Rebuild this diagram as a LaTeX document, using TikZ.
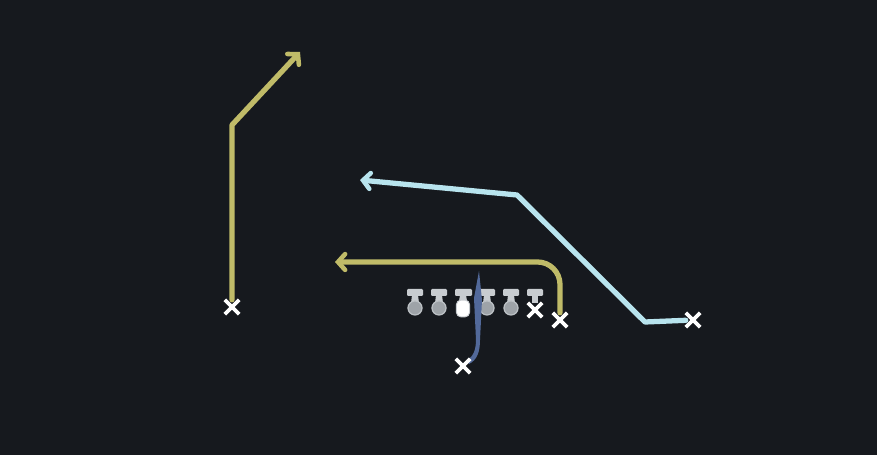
\documentclass[tikz,border=0pt]{standalone}
\usepackage{tikz}
\usetikzlibrary{arrows.meta,shapes.misc}
\usepackage{xcolor}

\definecolor{field}{HTML}{16191E}
\definecolor{routeyellow}{HTML}{C0BB68}
\definecolor{routecyan}{HTML}{B8E4EE}
\definecolor{routeblue}{HTML}{52699A}
\definecolor{linegray}{HTML}{9EA3A8}
\definecolor{bargray}{HTML}{C8CCD0}

\tikzset{
  player/.style={cross out, draw=white, line width=2.2pt, minimum size=6pt, inner sep=0pt},
  lineman/.style={circle, fill=linegray, draw=bargray!70!linegray, line width=0.7pt, minimum size=8pt, inner sep=0pt},
  route/.style={line width=3pt, line cap=round, line join=round,
    -{Straight Barb[length=4pt,width=9pt,line width=2.6pt,line cap=round]}}
}

\begin{document}
\begin{tikzpicture}[x=0.02cm, y=-0.02cm]
    \fill[field] (0, 0) rectangle (877, 455);
    \useasboundingbox (0, 0) rectangle (877, 455);

    % Offensive line
    \foreach \x/\n in {415/lt, 439/lg, 487/rg, 511/rt}{
        \fill[bargray, rounded corners=0.6pt] (\x - 8, 289) rectangle (\x + 8, 296);
        \fill[bargray] (\x - 3, 295) -- (\x + 3, 295) -- (\x + 4, 303) -- (\x - 4, 303) -- cycle;
        \node[lineman] (\n) at (\x, 308) {};
    }

    % Center
    \fill[bargray, rounded corners=0.6pt] (455, 289) rectangle (472, 296);
    \fill[bargray] (460, 295) -- (466, 295) -- (467, 301) -- (459, 301) -- cycle;
    \node[fill=white, draw=bargray, line width=0.5pt, rounded corners=2.5pt, minimum width=7.5pt, minimum height=9.5pt, inner sep=0pt] (c) at (463, 308.5) {};

    % Tight end
    \fill[bargray, rounded corners=0.6pt] (527, 289) rectangle (543, 296);
    \fill[bargray] (532, 295) -- (538, 295) -- (538, 303) -- (532, 303) -- cycle;
    \node[player] (te) at (535, 310) {};

    % Quarterback drop
    \fill[routeblue] (469, 364) .. controls (477, 360) and (480, 352) .. (480, 340)
        -- (482, 300) -- (479, 271) -- (474, 298) -- (476, 340)
        .. controls (476, 350) and (473, 357) .. (467, 360) -- cycle;
    \node[player] (qb) at (463, 366) {};

    % Left receiver: vertical then post
    \node[player] (wr) at (232, 307) {};
    \draw[route, routeyellow] (wr) -- (232, 125) -- (300, 52);

    % Slot receiver: under route
    \node[player] (sr) at (560, 320) {};
    \draw[route, routeyellow, rounded corners=0.45cm] (sr) -- (560, 262) -- (335, 262);

    % Flanker: out then deep cross
    \node[player] (fl) at (693, 320) {};
    \draw[route, routecyan] (fl) -- (645, 322) -- (517, 195) -- (360, 180);
\end{tikzpicture}
\end{document}
